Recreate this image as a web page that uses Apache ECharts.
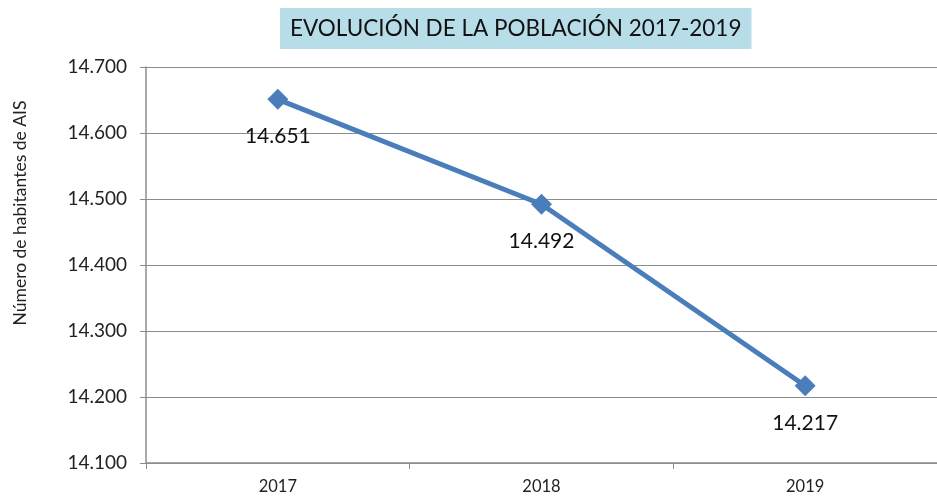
<!DOCTYPE html>
<html>
<head>
<meta charset="utf-8">
<script src="https://cdn.jsdelivr.net/npm/echarts@6/dist/echarts.min.js"></script>
<style>
  html, body { margin: 0; padding: 0; background: #fff; }
  #main { width: 937px; height: 500px; }
</style>
</head>
<body>
<div id="main"></div>
<script>
// datos del gráfico
var years = ['2017', '2018', '2019'];
var habitantes = [14651, 14492, 14217];

// formato con punto de miles
function miles(v) {
  return String(Math.round(v)).replace(/\B(?=(\d{3})+(?!\d))/g, '.');
}

var chart = echarts.init(document.getElementById('main'));
chart.setOption({
  animation: false,
  title: {
    text: 'EVOLUCIÓN DE LA POBLACIÓN 2017-2019',
    left: 280,
    top: 8,
    padding: [9, 10, 9, 10],
    backgroundColor: '#b7dde8',
    textStyle: { fontFamily: 'Lato', fontWeight: 'normal', fontSize: 22.5, color: '#111' }
  },
  graphic: [{
    type: 'text',
    x: 11,
    y: 213,
    rotation: Math.PI / 2,
    style: {
      text: 'Número de habitantes de AIS',
      font: '17.5px Lato',
      fill: '#222',
      align: 'center',
      verticalAlign: 'top'
    }
  }],
  grid: { left: 146, right: -9, top: 67, bottom: 37 },
  xAxis: {
    type: 'category',
    data: years,
    boundaryGap: true,
    axisLine: { lineStyle: { color: '#8c8c8c', width: 1.5 } },
    axisTick: { show: true, length: 6, inside: false, lineStyle: { color: '#8c8c8c' } },
    axisLabel: { fontFamily: 'Lato', fontSize: 16.5, color: '#222', margin: 15 }
  },
  yAxis: {
    type: 'value',
    min: 14100,
    max: 14700,
    interval: 100,
    axisLine: { show: true, lineStyle: { color: '#8c8c8c', width: 1.5 } },
    axisTick: { show: true, length: 6, lineStyle: { color: '#8c8c8c' } },
    splitLine: { lineStyle: { color: '#8c8c8c', width: 1.2 } },
    axisLabel: { fontFamily: 'Lato', fontSize: 19, color: '#222', margin: 19, formatter: miles }
  },
  series: [{
    type: 'line',
    data: habitantes,
    symbol: 'diamond',
    symbolSize: 21,
    lineStyle: { color: '#4a7ebb', width: 5 },
    itemStyle: { color: '#4a7ebb' },
    label: {
      show: true,
      position: 'bottom',
      distance: 16,
      fontFamily: 'Lato',
      fontSize: 21,
      color: '#111',
      formatter: function (p) { return miles(p.value); }
    }
  }]
});
</script>
</body>
</html>
